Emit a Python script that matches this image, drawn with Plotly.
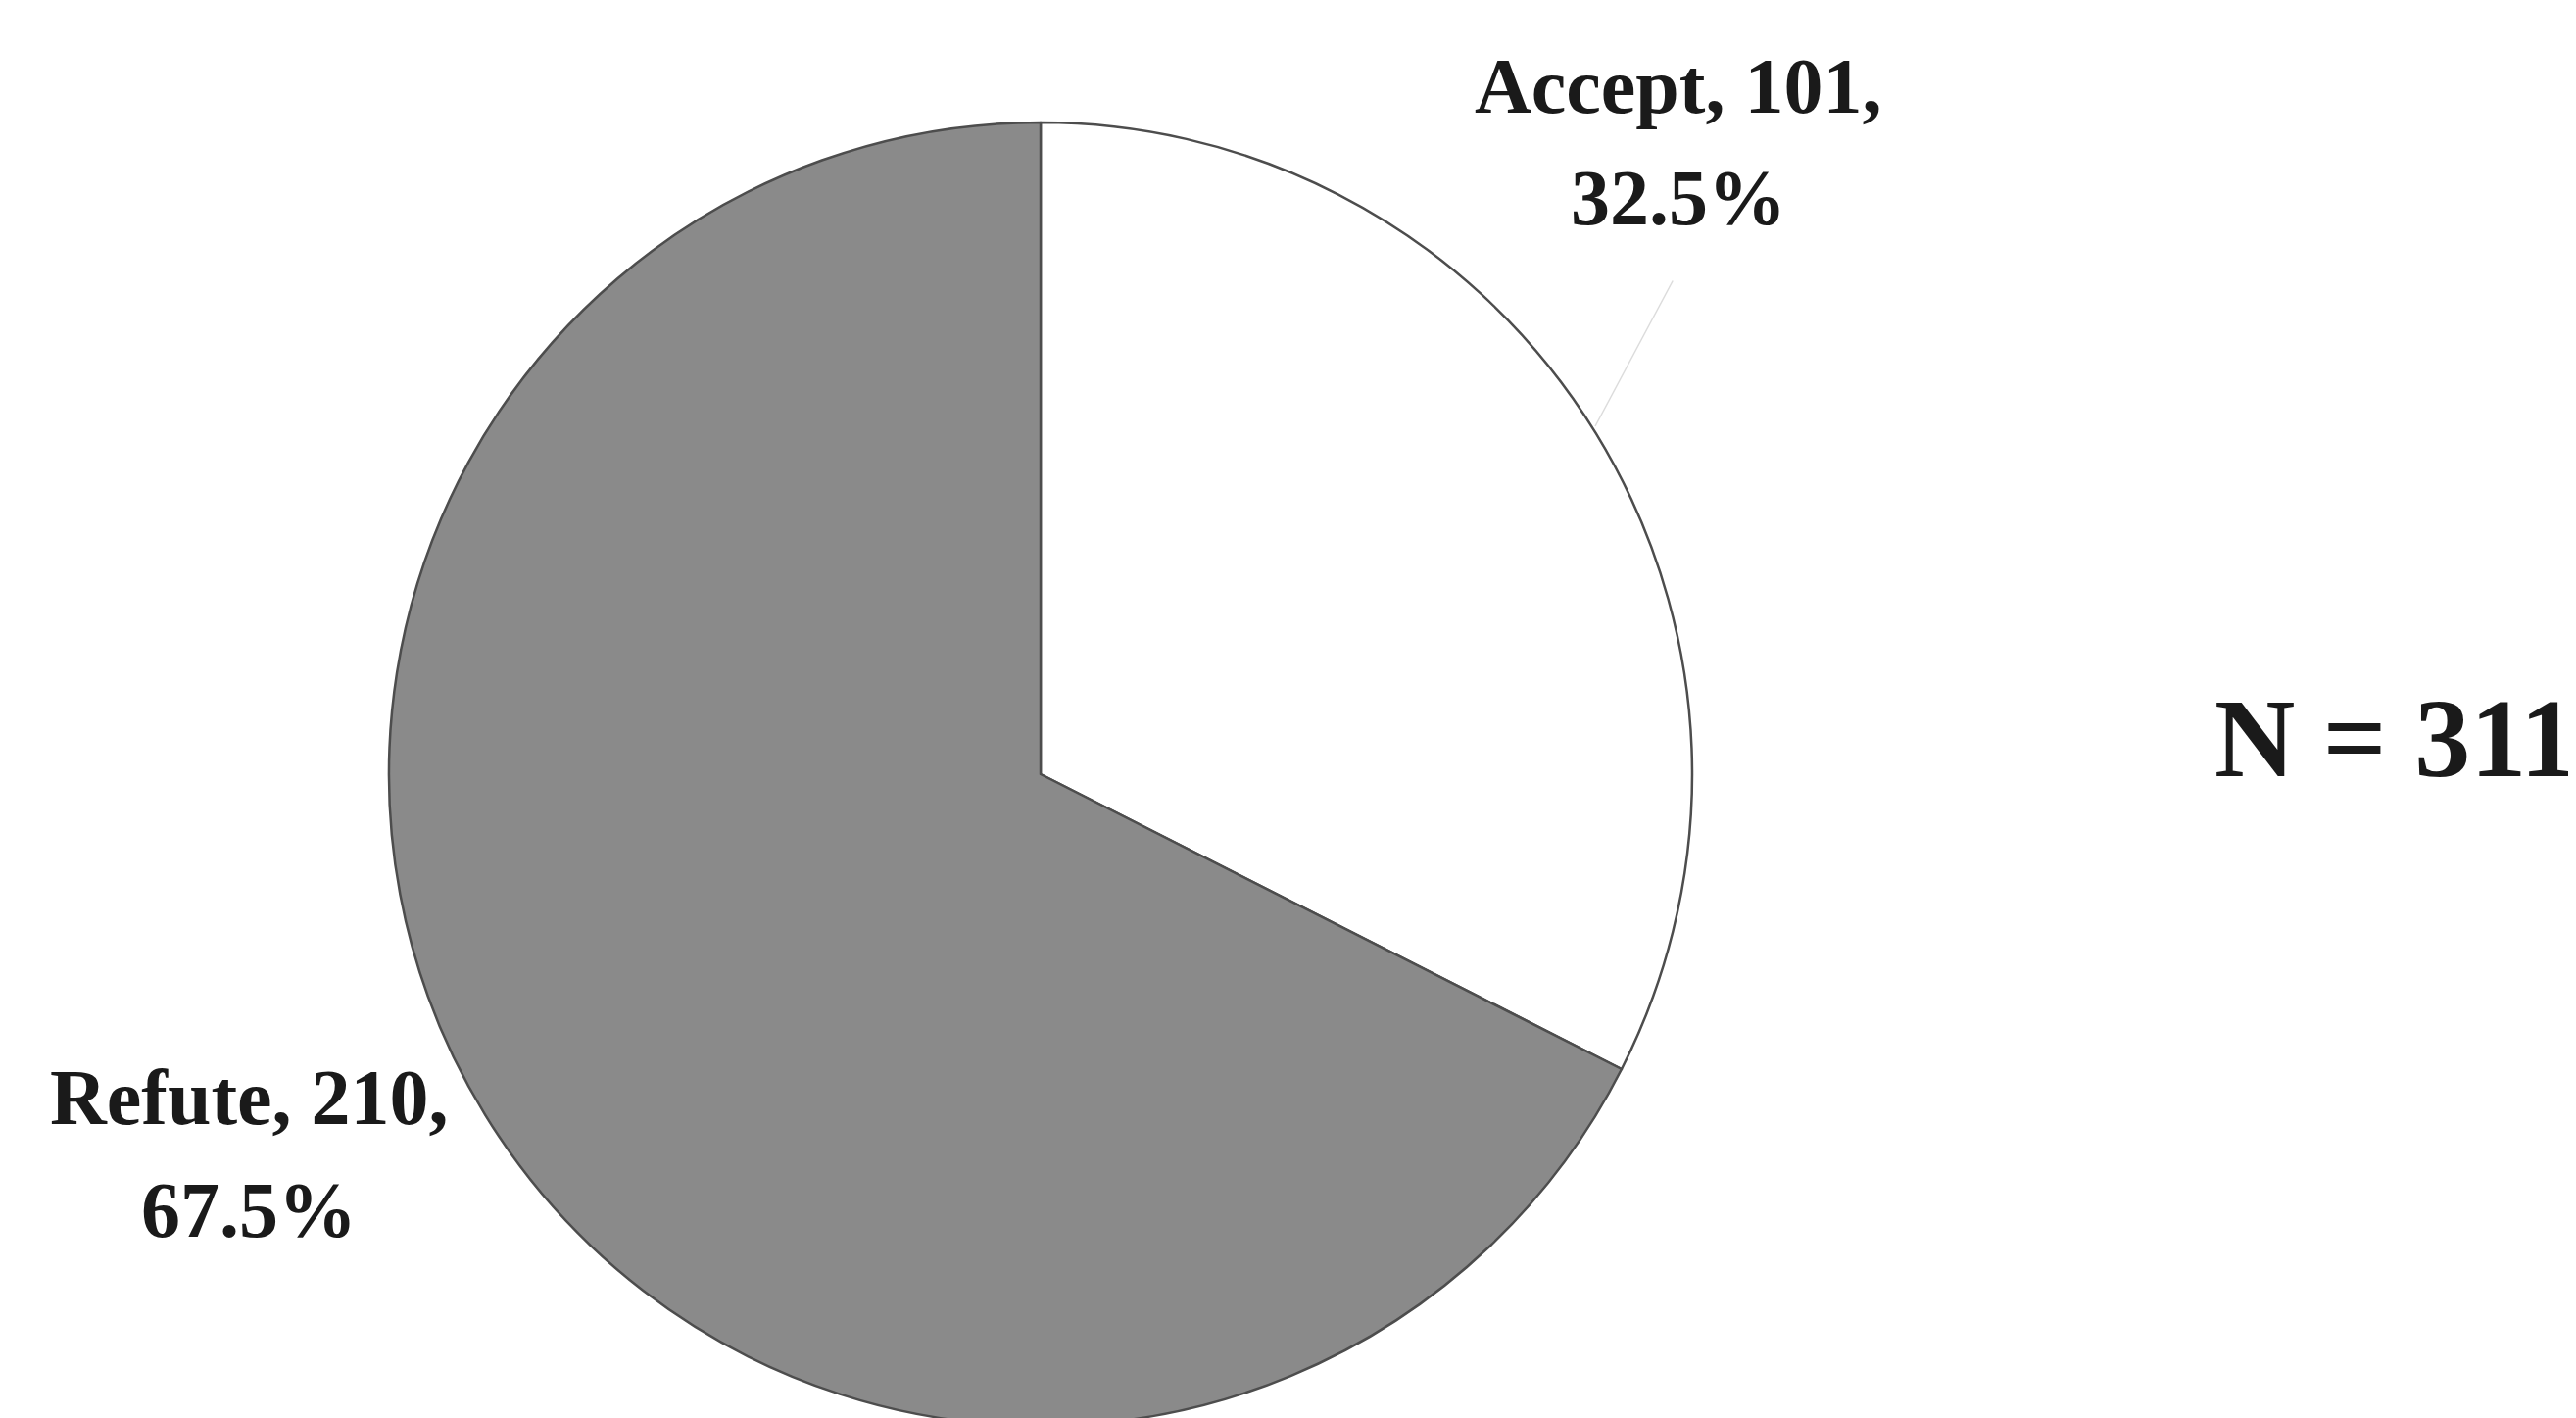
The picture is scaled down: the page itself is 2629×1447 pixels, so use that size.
import plotly.graph_objects as go

W, H = 2629, 1447

categories = ["Accept", "Refute"]
counts = [101, 210]
percent_labels = ["32.5%", "67.5%"]
total_label = "N = 311"

colors = ["#ffffff", "#8a8a8a"]

def px_x(x):
    return x / W

def px_y(y):
    return 1 - y / H

cx, cy, r = 1054, 782, 665

fig = go.Figure(go.Pie(
    labels=categories,
    values=counts,
    sort=False,
    direction="clockwise",
    rotation=0,
    textinfo="none",
    hoverinfo="label+value+percent",
    marker=dict(colors=colors, line=dict(color="#4d4d4d", width=2.5)),
    domain=dict(x=[px_x(cx - r), px_x(cx + r)], y=[max(0, px_y(cy + r)), px_y(cy - r)]),
    showlegend=False,
))

font = dict(family="Liberation Serif, Times New Roman, serif", size=80, color="#1a1a1a")

def label(text, x, y, size=None):
    f = dict(font)
    if size:
        f["size"] = size
    fig.add_annotation(text=f"<b>{text}</b>", x=px_x(x), y=px_y(y), xref="paper", yref="paper",
                       xanchor="center", yanchor="middle", showarrow=False, font=f)

label(f"{categories[0]}, {counts[0]},", 1704, 80)
label(percent_labels[0], 1705, 194)
label(f"{categories[1]}, {counts[1]},", 246, 1112)
label(percent_labels[1], 246, 1227)
label(total_label, 2436, 745, size=114)

# faint leader line from Accept label toward its slice
fig.add_annotation(text="", x=px_x(1620), y=px_y(427), xref="paper", yref="paper",
                   ax=80, ay=-150, showarrow=True, arrowhead=0, arrowwidth=1.5,
                   arrowcolor="#dcdcdc")

fig.update_layout(
    width=W, height=H,
    margin=dict(l=0, r=0, t=0, b=0),
    paper_bgcolor="white",
    plot_bgcolor="white",
)

fig.write_html("out.html")
